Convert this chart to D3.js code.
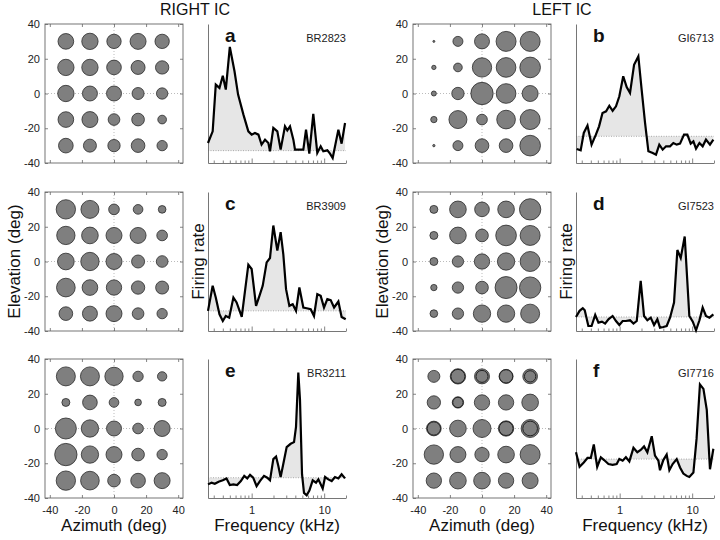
<!DOCTYPE html>
<html><head><meta charset="utf-8">
<script src="https://cdn.jsdelivr.net/npm/d3@7"></script>
<style>
body{margin:0;background:#fff}
text{font-family:"Liberation Sans",Arial,Helvetica,sans-serif}
</style>
</head><body>
<svg id="chart" width="720" height="540"></svg>
<script>
// ---------------- DATA ----------------
const columnTitles = ["RIGHT IC", "LEFT IC"];
const panelLetters = ["a", "b", "c", "d", "e", "f"];
const unitIds = ["BR2823", "GI6713", "BR3909", "GI7523", "BR3211", "GI7716"];

const azimuths = [-30, -15, 0, 15, 30];
const elevations = [30, 15, 0, -15, -30];
const azTicks = [-40, -20, 0, 20, 40];
const elTicks = [40, 20, 0, -20, -40];

const freqMajorTicks = [1, 10];
const freqMinorTicks = [0.3, 0.4, 0.5, 0.6, 0.7, 0.8, 0.9, 2, 3, 4, 5, 6, 7, 8, 9, 20];

// spatial response (relative response magnitude), rows = elevations, cols = azimuths
const spatialA = [[47,49,43,48,43],[49,49,44,42,40],[49,45,45,36,34],[47,48,35,38,26],[44,39,37,41,31]];
const spatialB = [[6,30,45,60,60],[13,26,58,59,62],[15,37,67,59,48],[19,54,32,56,60],[7,30,41,41,62]];
const spatialC = [[58,54,32,29,23],[55,50,48,48,32],[50,55,48,39,35],[56,47,46,40,39],[41,45,48,35,31]];
const spatialD = [[24,50,44,50,64],[24,50,38,62,60],[24,34,46,52,60],[19,34,38,66,64],[23,34,52,52,57]];
const spatialE = [[57,57,55,31,28],[24,44,29,20,24],[63,52,45,32,48],[67,52,48,38,31],[58,56,38,44,48]];
const spatialF = [[36,46,45,42,44],[40,34,46,46,50],[44,50,54,46,54],[58,48,43,50,60],[46,50,50,46,48]];
// extra (repeat) rings seen in panel f
const ringAzF = [-15, 0, 15, 30, -15, -30, 15, 30];
const ringElF = [30, 30, 30, 30, 15, 0, 0, 0];
const ringValF = [42, 36, 40, 34, 31, 40, 42, 44];

// frequency tuning curves (kHz, relative firing rate) and spontaneous baselines
const freqA = [0.25,0.29,0.32,0.36,0.40,0.44,0.50,0.58,0.65,0.77,0.90,1.0,1.11,1.24,1.37,1.53,1.70,1.79,1.99,2.26,2.51,2.88,3.10,3.38,3.76,3.96,4.64,5.16,5.62,6.24,7.08,8.04,8.95,9.73,11.06,12.04,13.1,15.7,17.4,19.4];
const rateA = [14.4,22.8,56.4,54,62.8,52.8,83.5,66,49.2,34.8,22.8,20.4,21.6,20.4,13.2,16.8,14.4,8.4,25.2,22.8,9.6,26.4,23.5,26.4,16.8,9.6,9.6,9.6,24,6.7,35.3,7.2,12,8.4,9.1,6.7,3.6,24,13.9,28.8];
const freqB = [0.255,0.29,0.32,0.36,0.41,0.47,0.52,0.58,0.65,0.72,0.80,0.89,0.99,1.12,1.25,1.39,1.58,1.81,2.01,2.24,2.49,2.86,3.17,3.52,3.92,4.36,4.95,5.50,6.12,6.80,7.72,8.58,9.54,10.4,11.3,12.6,13.95,15.5,17.6,19.6];
const rateB = [10.1,9.1,21.6,26.9,13.2,20.4,26.4,36,37.2,41.2,37.6,40.8,48,62.4,54.7,50.4,70.7,76.7,52.8,28.8,8.4,7.2,6,13.2,9.6,12,12,14.4,13.2,13.9,20.4,20.4,13.9,15.6,10.3,14.4,12,16.8,13.2,16.8];
const freqC = [0.25,0.29,0.32,0.36,0.40,0.44,0.49,0.56,0.62,0.73,0.81,0.90,1.0,1.15,1.28,1.42,1.61,1.79,1.99,2.26,2.51,2.73,2.98,3.31,3.68,4.09,4.55,5.16,5.74,6.52,7.24,8.04,8.95,9.95,11.06,12.3,13.7,15.7,17.4,19.8];
const rateC = [14.5,32.5,24.1,12,7.2,10.8,9.6,24.1,20.5,10.1,28.9,47.7,44.6,18.1,25.3,32.5,49.4,52.5,75.9,57.8,71.1,55.4,30.1,18.1,19.3,14.5,31.3,16.9,16.4,15.7,10.8,26.5,25.3,16.9,22.9,22.2,16.9,21.2,10.1,8.4];
const freqD = [0.25,0.28,0.31,0.33,0.37,0.41,0.46,0.51,0.57,0.63,0.70,0.80,0.89,0.99,1.10,1.22,1.39,1.55,1.72,1.95,2.17,2.41,2.68,2.98,3.31,3.60,4.0,4.45,4.95,5.62,6.25,6.95,7.89,9.14,10.2,11.3,12.6,13.95,15.5,17.3,19.6];
const rateD = [10.1,14.5,16.4,14.9,3.6,3.6,11.6,6,6.7,5.3,8.4,10.8,7.2,4.3,7.2,7.2,7.7,5.3,7.2,36.1,10.8,7.7,9.6,4.3,8.4,2.4,2.9,3.6,9.6,20.5,58.3,52.5,68,10.8,6.7,0.5,7.7,16.9,10.8,9.6,12];
const freqE = [0.25,0.28,0.31,0.35,0.40,0.45,0.50,0.56,0.63,0.71,0.79,0.87,0.95,1.05,1.17,1.30,1.48,1.64,1.79,1.99,2.17,2.33,2.51,2.73,3.04,3.45,3.84,4.09,4.40,4.64,4.95,5.27,5.74,6.25,6.95,7.72,8.32,9.54,10.3,11.4,12.7,14.1,15.7,17.4,19.4];
const rateE = [9.8,11,10.2,11.7,12.7,14.1,9.3,9.8,9.3,12.2,15.9,14.1,16.6,14.6,8.5,12.2,15.9,14.6,12.7,28,29.8,23.2,15.1,24.4,36.6,39,40.2,51.2,90.2,70.7,17.1,3.7,2,5.4,12.7,11,13.4,6.8,15.1,13.4,12.2,15.1,14.1,17.1,14.1];
const freqF = [0.25,0.28,0.32,0.36,0.40,0.44,0.49,0.55,0.61,0.70,0.80,0.91,0.99,1.10,1.22,1.36,1.55,1.75,1.95,2.17,2.41,2.77,3.07,3.42,3.60,4.0,4.45,4.85,5.38,6.12,6.80,7.55,8.41,9.14,10.4,11.5,12.8,14.3,15.9,17.6,19.6];
const rateF = [32.9,22.4,25.6,28.8,28.8,38.5,22.4,29.3,27.3,24.4,23.9,24.4,28,26.8,29.3,26.3,36.1,32.9,34.6,37.1,32.9,44.4,30.5,26.8,20,27.3,31.2,20,24.4,28,22,17.6,15.9,15.1,18.3,42.7,81.7,78.5,63.4,20.7,35.4];
const baselines = [8.9, 19.2, 14.5, 10.1, 14.6, 28];

// ---------------- LAYOUT ----------------
const svg = d3.select("#chart");
const W = 138, H = 139;
const bubbleLeft = [45, 413];
const freqLeft = [208, 576];
const rowTop = [24, 192, 359];
const axisColor = "#666";

const spatial = [spatialA, spatialB, spatialC, spatialD, spatialE, spatialF];
const freqs = [freqA, freqB, freqC, freqD, freqE, freqF];
const rates = [rateA, rateB, rateC, rateD, rateE, rateF];

const rScale = d3.scaleLinear().domain([0, 70]).range([0, 70 / 6]);

// Column titles
columnTitles.forEach((t, c) => {
  svg.append("text").attr("x", c === 0 ? 195 : 562).attr("y", 15)
    .attr("text-anchor", "middle").attr("font-size", 16).attr("fill", "#111").text(t);
});

for (let row = 0; row < 3; row++) {
  for (let col = 0; col < 2; col++) {
    const idx = row * 2 + col;
    const y0 = rowTop[row];
    const showX = row === 2;

    // ---------- bubble panel ----------
    const bx = bubbleLeft[col];
    const xS = d3.scaleLinear().domain([-43, 43]).range([bx, bx + W]);
    const yS = d3.scaleLinear().domain([-40, 40]).range([y0 + H, y0]);
    const g = svg.append("g");

    // dotted grid at 0
    g.append("line").attr("x1", xS(0)).attr("x2", xS(0)).attr("y1", y0).attr("y2", y0 + H)
      .attr("stroke", "#aaa").attr("stroke-width", 0.8).attr("stroke-dasharray", "1,2");
    g.append("line").attr("x1", bx).attr("x2", bx + W).attr("y1", yS(0)).attr("y2", yS(0))
      .attr("stroke", "#aaa").attr("stroke-width", 0.8).attr("stroke-dasharray", "1,2");

    const fmt = d => String(d);
    const axB = g.append("g").attr("transform", `translate(0,${y0 + H})`)
      .call(d3.axisBottom(xS).tickValues(azTicks).tickSize(-3).tickPadding(8)
        .tickFormat(showX ? fmt : () => ""));
    const axT = g.append("g").attr("transform", `translate(0,${y0})`)
      .call(d3.axisTop(xS).tickValues(azTicks).tickSize(-3).tickFormat(() => ""));
    const axL = g.append("g").attr("transform", `translate(${bx},0)`)
      .call(d3.axisLeft(yS).tickValues(elTicks).tickSize(-3).tickPadding(5).tickFormat(fmt));
    const axR = g.append("g").attr("transform", `translate(${bx + W},0)`)
      .call(d3.axisRight(yS).tickValues(elTicks).tickSize(-3).tickFormat(() => ""));
    [axB, axT, axL, axR].forEach(a => {
      a.select(".domain").remove();
      a.selectAll(".tick line").attr("stroke", axisColor).attr("stroke-width", 0.8);
      a.selectAll(".tick text").attr("font-size", 11).attr("fill", "#222")
        .attr("font-family", "'Liberation Sans',Arial,sans-serif");
    });
    g.append("rect").attr("x", bx).attr("y", y0).attr("width", W).attr("height", H)
      .attr("fill", "none").attr("stroke", axisColor).attr("stroke-width", 0.9);

    const cells = [];
    elevations.forEach((el, i) => azimuths.forEach((az, j) => cells.push({ az, el, v: spatial[idx][i][j] })));
    g.selectAll("circle.b").data(cells).enter().append("circle").attr("class", "b")
      .attr("cx", d => xS(d.az)).attr("cy", d => yS(d.el)).attr("r", d => rScale(d.v))
      .attr("fill", "#7f7f7f").attr("stroke", "#2a2a2a").attr("stroke-width", 0.8);
    if (idx === 5) {
      const rings = ringAzF.map((az, k) => ({ az, el: ringElF[k], v: ringValF[k] }));
      g.selectAll("circle.r").data(rings).enter().append("circle").attr("class", "r")
        .attr("cx", d => xS(d.az)).attr("cy", d => yS(d.el)).attr("r", d => rScale(d.v))
        .attr("fill", "none").attr("stroke", "#222").attr("stroke-width", 1);
    }

    if (showX) {
      g.append("text").attr("x", bx + W / 2).attr("y", 531).attr("text-anchor", "middle")
        .attr("font-size", 17).attr("fill", "#111").text("Azimuth (deg)");
    }
    if (row === 1) {
      g.append("text").attr("transform", `translate(${bx - 25},${y0 + H / 2}) rotate(-90)`)
        .attr("text-anchor", "middle").attr("font-size", 17).attr("fill", "#111").text("Elevation (deg)");
    }

    // ---------- frequency panel ----------
    const fx = freqLeft[col];
    const fS = d3.scaleLog().domain([0.25, 20]).range([fx, fx + W]);
    const rS = d3.scaleLinear().domain([0, 100]).range([y0 + H, y0]);
    const fg = svg.append("g");
    const data = freqs[idx].map((f, k) => ({ f, r: rates[idx][k] }));
    const base = baselines[idx];

    fg.append("path").datum(data)
      .attr("d", d3.area().x(d => fS(d.f)).y0(rS(base)).y1(d => rS(d.r)))
      .attr("fill", "#e6e6e6").attr("stroke", "none");
    fg.append("line").attr("x1", fx).attr("x2", fx + W).attr("y1", rS(base)).attr("y2", rS(base))
      .attr("stroke", "#999").attr("stroke-width", 0.8).attr("stroke-dasharray", "1,1.5");

    const minor = fg.append("g").attr("transform", `translate(0,${y0 + H})`)
      .call(d3.axisBottom(fS).tickValues(freqMinorTicks).tickSize(-2.5).tickSizeOuter(0).tickFormat(() => ""));
    const major = fg.append("g").attr("transform", `translate(0,${y0 + H})`)
      .call(d3.axisBottom(fS).tickValues(freqMajorTicks).tickSize(-4.5).tickSizeOuter(0).tickPadding(8)
        .tickFormat(showX ? d => String(d) : () => ""));
    major.select(".domain").remove();
    [minor, major].forEach(a => {
      a.select(".domain").attr("stroke", axisColor).attr("stroke-width", 0.9);
      a.selectAll(".tick line").attr("stroke", axisColor).attr("stroke-width", 0.8);
      a.selectAll(".tick text").attr("font-size", 11).attr("fill", "#222")
        .attr("font-family", "'Liberation Sans',Arial,sans-serif");
    });
    const left = fg.append("g").attr("transform", `translate(${fx},0)`)
      .call(d3.axisLeft(rS).tickValues([]).tickSizeOuter(0));
    left.select(".domain").attr("stroke", axisColor).attr("stroke-width", 0.9);

    fg.append("path").datum(data)
      .attr("d", d3.line().x(d => fS(d.f)).y(d => rS(d.r)))
      .attr("fill", "none").attr("stroke", "#000").attr("stroke-width", 2.2)
      .attr("stroke-linejoin", "miter");

    fg.append("text").attr("x", fx + 17).attr("y", y0 + 18).attr("font-size", 19)
      .attr("font-weight", "bold").attr("fill", "#111").text(panelLetters[idx]);
    fg.append("text").attr("x", fx + W).attr("y", y0 + 18).attr("text-anchor", "end")
      .attr("font-size", 11).attr("fill", "#222").text(unitIds[idx]);

    if (showX) {
      fg.append("text").attr("x", fx + W / 2).attr("y", 531).attr("text-anchor", "middle")
        .attr("font-size", 17).attr("fill", "#111").text("Frequency (kHz)");
    }
    if (row === 1) {
      fg.append("text").attr("transform", `translate(${fx - 4},${y0 + H / 2}) rotate(-90)`)
        .attr("text-anchor", "middle").attr("font-size", 17).attr("fill", "#111").text("Firing rate");
    }
  }
}
</script>
</body></html>
